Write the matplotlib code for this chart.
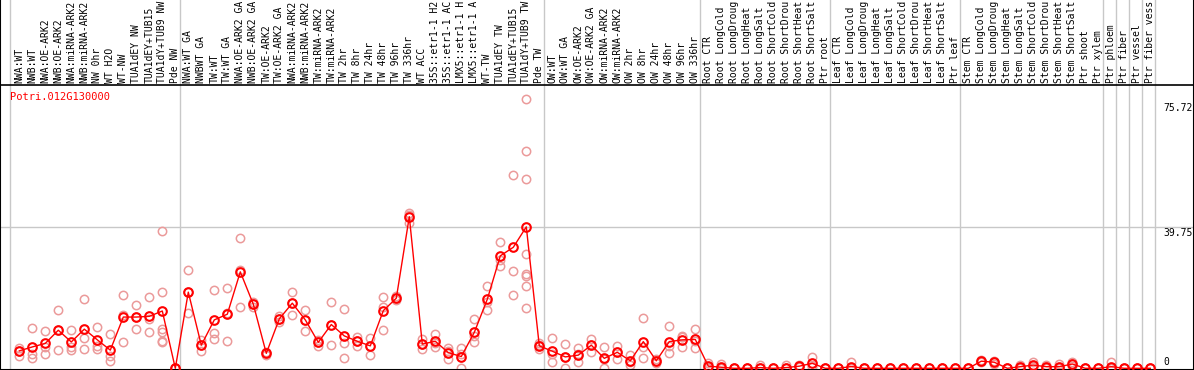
import matplotlib
matplotlib.use("Agg")
import matplotlib.pyplot as plt

# sample names along the top (as far as the header shows them)
labels = ["NWA:WT", "NWB:WT", "NWA:OE-ARK2", "NWB:OE-ARK2", "NWA:miRNA-ARK2", "NWB:miRNA-ARK2",
          "NW 0hr", "WT H2O", "WT-NW", "TUA1dEY NW", "TUA1dEY+TUB15", "TUA1dY+TUB9 NW", "Pde NW",
          "NWA:WT GA", "NWBWT GA", "TW:WT", "TW:WT GA", "NWA:OE-ARK2 GA", "NWB:OE-ARK2 GA",
          "TW:OE-ARK2", "TW:OE-ARK2 GA", "NWA:miRNA-ARK2", "NWB:miRNA-ARK2", "TW:miRNA-ARK2",
          "TW:miRNA-ARK2", "TW 2hr", "TW 8hr", "TW 24hr", "TW 48hr", "TW 96hr", "TW 336hr",
          "WT ACC", "35S::etr1-1 H2", "35S::etr1-1 AC", "LMX5::etr1-1 H", "LMX5::etr1-1 A",
          "WT-TW", "TUA1dEY TW", "TUA1dEY+TUB15", "TUA1dY+TUB9 TW", "Pde TW",
          "OW:WT", "OW:WT GA", "OW:OE-ARK2", "OW:OE-ARK2 GA", "OW:miRNA-ARK2", "OW:miRNA-ARK2",
          "OW 2hr", "OW 8hr", "OW 24hr", "OW 48hr", "OW 96hr", "OW 336hr",
          "Root CTR", "Root LongCold", "Root LongDroug", "Root LongHeat", "Root LongSalt",
          "Root ShortCold", "Root ShortDrou", "Root ShortHeat", "Root ShortSalt", "Ptr root",
          "Leaf CTR", "Leaf LongCold", "Leaf LongDroug", "Leaf LongHeat", "Leaf LongSalt",
          "Leaf ShortCold", "Leaf ShortDrou", "Leaf ShortHeat", "Leaf ShortSalt", "Ptr leaf",
          "Stem CTR", "Stem LongCold", "Stem LongDroug", "Stem LongHeat", "Stem LongSalt",
          "Stem ShortCold", "Stem ShortDrou", "Stem ShortHeat", "Stem ShortSalt", "Ptr shoot",
          "Ptr xylem", "Ptr phloem", "Ptr fiber", "Ptr vessel", "Ptr fiber vess"]

# mean expression per sample (red line)
means = [4.9, 6.0, 7.0, 10.7, 7.4, 11.0, 8.0, 5.1, 14.4, 14.4, 14.6, 16.1, 0.0,
         21.4, 6.5, 13.6, 15.2, 27.1, 18.0, 4.2, 13.9, 18.3, 13.6, 7.3, 12.3, 9.1,
         7.6, 6.3, 16.2, 19.7, 42.6, 6.8, 7.6, 4.4, 3.3, 10.1, 19.4, 31.6, 34.0, 39.75, 6.3,
         4.8, 3.2, 3.7, 6.5, 2.8, 4.5, 2.1, 7.5, 2.1, 7.5, 8.0, 8.1,
         0.6, 0.3, 0, 0, 0.2, 0, 0.2, 0.6, 1.4, 0,
         0, 0.5, 0, 0, 0, 0, 0, 0, 0, 0,
         0, 2.0, 1.7, 0, 0.45, 0.9, 0.45, 0.45, 1.2, 0,
         0, 0.45, 0, 0, 0]

# individual replicates (pink circles)
reps = [[5.8, 4.9, 3.5], [11.2, 3.9, 2.8], [10.4, 5.9, 4.1], [16.4, 10.7, 5.1],
        [10.7, 5.9, 5.2], [19.4, 8.4, 5.3], [11.6, 6.3, 5.3], [9.6, 3.5, 2.0],
        [20.5, 15.0, 7.3], [17.7, 14.4, 11.0], [19.9, 13.8, 10.1],
        [38.5, 21.4, 11.0, 10.1, 7.7, 7.3], [0, 0, 0],
        [27.5, 21.4, 15.5], [8.0, 6.5, 4.9], [22.0, 9.8, 8.1], [22.5, 15.5, 7.6],
        [36.5, 27.6, 17.1], [18.7, 18.0, 17.3], [4.6, 4.2, 3.8], [14.7, 13.9, 13.1],
        [21.4, 18.3, 14.9], [16.4, 13.6, 10.5], [8.0, 7.3, 6.4], [18.5, 12.3, 6.5],
        [16.7, 7.2, 2.8], [8.7, 7.6, 6.4], [8.6, 6.3, 3.7], [19.9, 17.1, 10.8],
        [20.3, 19.7, 19.1], [43.7, 43.2, 40.9], [8.1, 6.9, 5.3], [9.6, 7.2, 6.1],
        [5.6, 5.0, 2.5], [5.7, 4.1, 0.1], [13.9, 9.0, 7.5], [23.1, 18.7, 16.4],
        [35.6, 30.4, 28.7], [54.3, 27.3, 20.6],
        [75.72, 61.0, 53.2, 32.0, 26.5, 25.9, 23.2, 17.0], [7.0, 6.5, 5.3],
        [8.4, 3.9, 1.9], [6.7, 3.1, 0.1], [5.6, 3.9, 1.7], [8.2, 6.6, 4.7],
        [5.9, 2.6, 0.0], [6.3, 4.6, 2.6], [3.7, 1.8, 0.9], [14.0, 5.9, 2.8],
        [2.6, 2.1, 1.6], [11.9, 6.3, 4.4], [9.1, 8.9, 5.9], [11.0, 7.8, 5.6],
        [1.4, 0.3, 0.1], [1.2, 0, 0], [0, 0, 0], [0, 0, 0], [0.8, 0.1, 0], [0, 0, 0],
        [0.8, 0, 0], [0.9, 0.6, 0.3], [3.2, 0.6, 0.4], [0, 0, 0],
        [0, 0, 0], [1.8, 0, 0], [0, 0, 0], [0, 0, 0], [0, 0, 0], [0, 0, 0], [0, 0, 0],
        [0, 0, 0], [0, 0, 0], [0, 0, 0],
        [0, 0, 0], [2.3, 2.0, 1.7], [2.1, 1.7, 1.2], [0, 0, 0], [0.8, 0.4, 0.1],
        [1.8, 0.6, 0.3], [0.8, 0.4, 0.1], [1.1, 0.2, 0], [1.7, 1.2, 0.7], [0, 0, 0],
        [0, 0, 0], [1.7, 0, 0], [0, 0, 0], [0, 0, 0], [0, 0, 0]]

# last sample of each group (a grey separator follows it)
group_ends = [13, 41, 53, 63, 73, 84, 85, 86, 87, 88]

gene = "Potri.012G130000"
ytick_vals = [75.72, 39.75, 0]

W, H = 1194, 370
fig = plt.figure(figsize=(W / 100, H / 100), dpi=100)
ax = fig.add_axes([0, 0, 1, 1])

# one column every 13 px, first centre at 19 px; 0 sits just above the bottom edge
px_per_unit = 3.559
zero_px = 368.3
ax.set_xlim(1 - 19.3 / 13, 1 + (W - 19.3) / 13)
ax.set_ylim(-(H - zero_px) / px_per_unit, zero_px / px_per_unit)

xs = list(range(1, len(labels) + 1))
mono = "DejaVu Sans Mono"
grey = "#c8c8c8"

for x in [0.285] + [g + 0.37 for g in group_ends]:
    ax.axvline(x, color=grey, lw=1.0, zorder=1)
ax.axhline(ytick_vals[1], color=grey, lw=1.0, zorder=1)

# line between label block and plot area
head_y = (zero_px - 85) / px_per_unit
ax.axhline(head_y, color="black", lw=1.2, zorder=5)

for x, r in zip(xs, reps):
    ax.plot([x] * len(r), r, ls="none", marker="o", ms=6, mfc="none",
            mec="#eb9a9a", mew=1.1, zorder=2)

ax.plot(xs, means, color="red", lw=1.0, marker="o", ms=6.2, mfc="none",
        mec="red", mew=1.5, zorder=4)

lab_y = (zero_px - 83) / px_per_unit
for x, lab in zip(xs, labels):
    ax.text(x, lab_y, lab, rotation=90, ha="center", va="bottom",
            family=mono, fontsize=7, color="black")

ax.text(10 / W, 1 - 92 / H, gene, transform=ax.transAxes, ha="left", va="top",
        family=mono, fontsize=7.5, color="red")

xr = 1163 / W
ax.text(xr, ytick_vals[0] - 1.2, "%.2f" % ytick_vals[0], transform=ax.get_yaxis_transform(),
        ha="left", va="top", family=mono, fontsize=7)
ax.text(xr, ytick_vals[1] - 0.2, "%.2f" % ytick_vals[1], transform=ax.get_yaxis_transform(),
        ha="left", va="top", family=mono, fontsize=7)
ax.text(xr, 0.5, "0", transform=ax.get_yaxis_transform(),
        ha="left", va="bottom", family=mono, fontsize=7)

ax.set_xticks([])
ax.set_yticks([])
for side in ["left", "right", "bottom"]:
    ax.spines[side].set_color("black")
    ax.spines[side].set_linewidth(1.5)
ax.spines["top"].set_visible(False)

fig.savefig("out.png", dpi=100)
